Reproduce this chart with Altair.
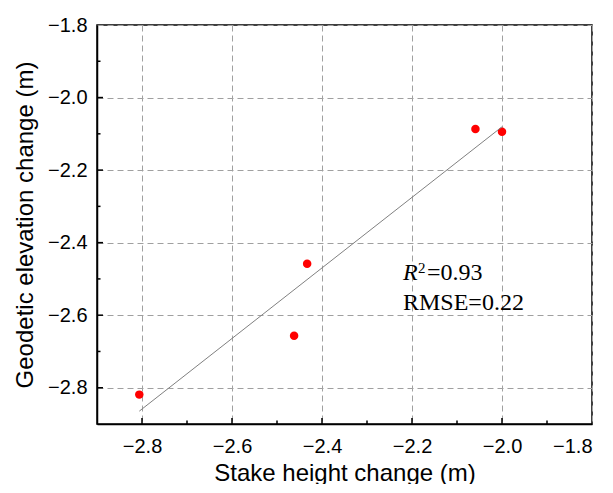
import altair as alt
import pandas as pd

# Data
stake_change = [-2.806, -2.462, -2.433, -2.059, -2.000]
geodetic_change = [-2.819, -2.657, -2.458, -2.087, -2.094]

major_ticks = [-2.8, -2.6, -2.4, -2.2, -2.0, -1.8]
minor_x_ticks = [-2.7, -2.5, -2.3, -2.1, -1.9]
minor_y_ticks = [-2.7, -2.5, -2.3, -2.1, -1.9]

ann_x = [-2.22, -2.22]
ann_y = [-2.5025, -2.587]

W, H = 495, 399

pts = pd.DataFrame({"x": stake_change, "y": geodetic_change})
xs = alt.Scale(domain=[-2.9, -1.8], nice=False, zero=False)
ys = alt.Scale(domain=[-2.9, -1.8], nice=False, zero=False)

x_axis = alt.Axis(
    title="Stake height change (m)", values=major_ticks, format=".1f",
    grid=True, gridDash=[6, 4], gridColor="#a0a0a0", gridWidth=1,
    ticks=False, labelPadding=12, labelFontSize=20, titleFontSize=24,
    titleBaseline="alphabetic", titleY=56, titleX=W / 2,
    labelFont="Liberation Sans", titleFont="Liberation Sans",
    titleFontWeight="normal", labelColor="black", titleColor="black",
    domainColor="black", domainWidth=1.5,
)
y_axis = alt.Axis(
    title="Geodetic elevation change (m)", values=major_ticks, format=".1f",
    grid=True, gridDash=[6, 4], gridColor="#a0a0a0", gridWidth=1,
    ticks=False, labelPadding=10, labelFontSize=20, titleFontSize=24,
    titleBaseline="alphabetic", titleX=-65, titleY=H / 2, titleAngle=270,
    labelFont="Liberation Sans", titleFont="Liberation Sans",
    titleFontWeight="normal", labelColor="black", titleColor="black",
    domainColor="black", domainWidth=1.5,
)

base = alt.Chart(pts)

points = base.mark_circle(color="#ff0000", opacity=1, size=72).encode(
    x=alt.X("x:Q", scale=xs, axis=x_axis),
    y=alt.Y("y:Q", scale=ys, axis=y_axis),
)

reg = base.transform_regression("x", "y").mark_line(
    color="#808080", strokeWidth=1
).encode(x=alt.X("x:Q", scale=xs), y=alt.Y("y:Q", scale=ys))

# inward ticks
xmaj = alt.Chart(pd.DataFrame({"v": major_ticks[:-1]})).mark_rule(
    color="black", strokeWidth=1.5
).encode(x=alt.X("v:Q", scale=xs), y=alt.value(H), y2=alt.value(H - 6))
xmin = alt.Chart(pd.DataFrame({"v": minor_x_ticks})).mark_rule(
    color="black", strokeWidth=1.5
).encode(x=alt.X("v:Q", scale=xs), y=alt.value(H), y2=alt.value(H - 3.5))
ymaj = alt.Chart(pd.DataFrame({"v": major_ticks[:-1]})).mark_rule(
    color="black", strokeWidth=1.5
).encode(y=alt.Y("v:Q", scale=ys), x=alt.value(0), x2=alt.value(6))
ymin = alt.Chart(pd.DataFrame({"v": minor_y_ticks})).mark_rule(
    color="black", strokeWidth=1.5
).encode(y=alt.Y("v:Q", scale=ys), x=alt.value(0), x2=alt.value(3.5))

ann1 = pd.DataFrame({"x": [ann_x[0]], "y": [ann_y[0]]})
ann2 = pd.DataFrame({"x": [ann_x[1]], "y": [ann_y[1]]})
serif = "Liberation Serif"
t_R = alt.Chart(ann1).mark_text(
    text="R", font=serif, fontSize=24, fontStyle="italic", align="left",
    baseline="alphabetic", color="black"
).encode(x=alt.X("x:Q", scale=xs), y=alt.Y("y:Q", scale=ys))
t_sup = alt.Chart(ann1).mark_text(
    text="2", font=serif, fontSize=15, align="left", baseline="alphabetic",
    dx=15, dy=-7, color="black"
).encode(x=alt.X("x:Q", scale=xs), y=alt.Y("y:Q", scale=ys))
t_r2 = alt.Chart(ann1).mark_text(
    text="=0.93", font=serif, fontSize=24, align="left", baseline="alphabetic",
    dx=24, color="black"
).encode(x=alt.X("x:Q", scale=xs), y=alt.Y("y:Q", scale=ys))
t_rmse = alt.Chart(ann2).mark_text(
    text="RMSE=0.22", font=serif, fontSize=24, align="left",
    baseline="alphabetic", color="black"
).encode(x=alt.X("x:Q", scale=xs), y=alt.Y("y:Q", scale=ys))

chart = alt.layer(
    points, reg, xmaj, xmin, ymaj, ymin, t_R, t_sup, t_r2, t_rmse
).properties(
    width=W, height=H,
    padding={"left": 89, "top": 17, "right": 13, "bottom": 60},
    autosize=alt.AutoSizeParams(type="none"),
    background="white",
).configure_view(stroke="black", strokeWidth=1.5)

chart.save("out.html", embed_options={"renderer": "svg", "actions": False})
